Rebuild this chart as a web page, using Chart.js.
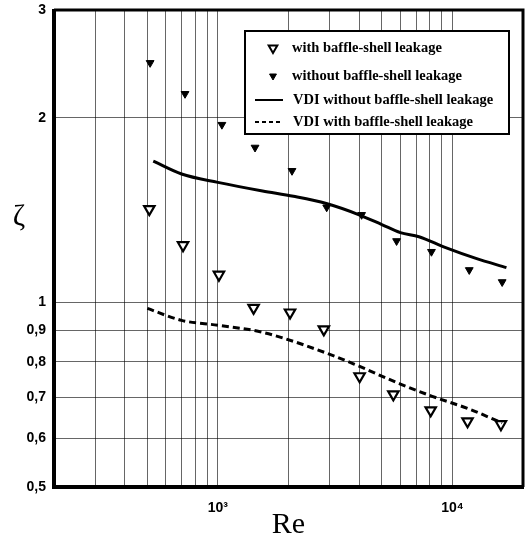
<!DOCTYPE html>
<html>
<head>
<meta charset="utf-8">
<script src="https://cdn.jsdelivr.net/npm/chart.js@4"></script>
<style>
  body { margin: 0; background: #fff; }
  canvas { display: block; }
</style>
</head>
<body>
<canvas id="zetaChart" width="526" height="539"></canvas>
<script>
// measured points, with baffle-shell leakage (open triangles)
const reWith = [510, 710, 1010, 1420, 2030, 2830, 4020, 5600, 8080, 11600, 16100];
const zetaWith = [1.42, 1.24, 1.11, 0.98, 0.963, 0.904, 0.758, 0.708, 0.667, 0.640, 0.633];

// measured points, without leakage (filled triangles)
const reWithout = [514, 724, 1040, 1440, 2070, 2910, 4100, 5780, 8140, 11800, 16300];
const zetaWithout = [2.46, 2.19, 1.95, 1.79, 1.64, 1.43, 1.39, 1.26, 1.21, 1.13, 1.08];

// VDI curves
const reVdiNo = [530, 700, 1000, 1550, 2100, 2900, 4000, 5000, 6000, 7200, 9300, 12600, 17000];
const zetaVdiNo = [1.70, 1.62, 1.57, 1.52, 1.49, 1.45, 1.39, 1.34, 1.30, 1.28, 1.23, 1.18, 1.14];
const reVdiWith = [500, 700, 1000, 1550, 3000, 4000, 6000, 8200, 11800, 16300];
const zetaVdiWith = [0.978, 0.935, 0.918, 0.894, 0.823, 0.787, 0.736, 0.703, 0.67, 0.636];

// axes
const xTicks = [200, 300, 400, 500, 600, 700, 800, 900, 1000, 2000, 3000, 4000, 5000, 6000, 7000, 8000, 9000, 10000, 20000];
const xLabels = { 1000: '10\u00B3', 10000: '10\u2074' };
const yTicks = [0.5, 0.6, 0.7, 0.8, 0.9, 1, 2, 3];

const legendItems = [
  'with baffle-shell leakage',
  'without baffle-shell leakage',
  'VDI without baffle-shell leakage',
  'VDI with baffle-shell leakage'
];

function pts(xs, ys) {
  return xs.map((x, i) => ({ x: x, y: ys[i] }));
}

const gridColor = 'rgba(0,0,0,0.6)';

// frame, zeta label and the boxed legend
const decorations = {
  id: 'decorations',
  afterDraw(chart) {
    const ctx = chart.ctx;
    const a = chart.chartArea;
    ctx.save();
    ctx.strokeStyle = '#000';
    ctx.lineWidth = 3;
    ctx.beginPath();
    ctx.moveTo(a.left, a.top);
    ctx.lineTo(a.right, a.top);
    ctx.lineTo(a.right, a.bottom);
    ctx.stroke();
    ctx.lineWidth = 4;
    ctx.beginPath();
    ctx.moveTo(a.left, a.top - 1);
    ctx.lineTo(a.left, a.bottom);
    ctx.lineTo(a.right + 1, a.bottom);
    ctx.stroke();

    ctx.fillStyle = '#000';
    ctx.font = '30px "Liberation Serif", serif';
    ctx.textAlign = 'center';
    ctx.textBaseline = 'middle';
    ctx.fillText('\u03B6', 19, a.top + (a.bottom - a.top) * 0.434);

    // legend box
    const bx = a.left + 191, by = a.top + 21, bw = 264, bh = 103;
    ctx.fillStyle = '#fff';
    ctx.fillRect(bx, by, bw, bh);
    ctx.lineWidth = 2;
    ctx.strokeRect(bx, by, bw, bh);

    const rows = [by + 17, by + 45, by + 69, by + 91];
    const sx = bx + 28;
    ctx.fillStyle = '#fff';
    ctx.strokeStyle = '#000';
    ctx.lineWidth = 2;
    Chart.helpers.drawPoint(ctx, { pointStyle: 'triangle', rotation: 180, radius: 5, borderWidth: 2 }, sx, rows[0]);
    ctx.fillStyle = '#000';
    ctx.lineWidth = 1;
    Chart.helpers.drawPoint(ctx, { pointStyle: 'triangle', rotation: 180, radius: 4, borderWidth: 1 }, sx, rows[1]);

    ctx.lineWidth = 2;
    ctx.beginPath();
    ctx.moveTo(bx + 10, rows[2]);
    ctx.lineTo(bx + 38, rows[2]);
    ctx.stroke();
    ctx.setLineDash([4, 3]);
    ctx.beginPath();
    ctx.moveTo(bx + 10, rows[3]);
    ctx.lineTo(bx + 38, rows[3]);
    ctx.stroke();
    ctx.setLineDash([]);

    ctx.fillStyle = '#000';
    ctx.textAlign = 'left';
    ctx.textBaseline = 'middle';
    ctx.font = 'bold 14.5px "Liberation Serif", serif';
    ctx.fillText(legendItems[0], bx + 47, rows[0]);
    ctx.fillText(legendItems[1], bx + 47, rows[1]);
    ctx.fillText(legendItems[2], bx + 48, rows[2]);
    ctx.fillText(legendItems[3], bx + 48, rows[3]);
    ctx.restore();
  }
};

const ctx = document.getElementById('zetaChart').getContext('2d');
new Chart(ctx, {
  type: 'scatter',
  data: {
    datasets: [
      {
        label: legendItems[2],
        data: pts(reVdiNo, zetaVdiNo),
        showLine: true,
        borderColor: '#000',
        borderWidth: 3,
        pointRadius: 0,
        cubicInterpolationMode: 'monotone'
      },
      {
        label: legendItems[3],
        data: pts(reVdiWith, zetaVdiWith),
        showLine: true,
        borderColor: '#000',
        borderWidth: 3,
        borderDash: [7, 4],
        pointRadius: 0,
        cubicInterpolationMode: 'monotone'
      },
      {
        label: legendItems[0],
        data: pts(reWith, zetaWith),
        pointStyle: 'triangle',
        rotation: 180,
        pointRadius: 6,
        pointBorderWidth: 2.2,
        pointBackgroundColor: '#fff',
        pointBorderColor: '#000'
      },
      {
        label: legendItems[1],
        data: pts(reWithout, zetaWithout),
        pointStyle: 'triangle',
        rotation: 180,
        pointRadius: 4.5,
        pointBorderWidth: 1,
        pointBackgroundColor: '#000',
        pointBorderColor: '#000'
      }
    ]
  },
  options: {
    responsive: false,
    animation: false,
    layout: { autoPadding: false, padding: { top: 10, right: 3, left: 0, bottom: 0 } },
    plugins: {
      legend: { display: false },
      tooltip: { enabled: false }
    },
    scales: {
      x: {
        type: 'logarithmic',
        min: 200,
        max: 20000,
        afterBuildTicks: s => { s.ticks = xTicks.map(v => ({ value: v })); },
        afterFit: s => { s.height = 52; s.paddingLeft = 0; s.paddingRight = 0; },
        grid: { color: gridColor, lineWidth: 1, drawTicks: false },
        border: { display: false },
        ticks: {
          autoSkip: false,
          maxRotation: 0,
          padding: 13,
          color: '#000',
          font: { family: '"Liberation Sans", Arial, sans-serif', size: 14, weight: 'bold' },
          callback: v => xLabels[v] || ''
        },
        title: {
          display: true,
          text: 'Re',
          color: '#000',
          font: { family: '"Liberation Serif", serif', size: 30 },
          padding: { top: 0, bottom: -4 }
        }
      },
      y: {
        type: 'logarithmic',
        min: 0.5,
        max: 3,
        afterBuildTicks: s => { s.ticks = yTicks.map(v => ({ value: v })); },
        afterFit: s => { s.width = 54; s.paddingTop = 0; s.paddingBottom = 0; },
        grid: { color: gridColor, lineWidth: 1, drawTicks: false },
        border: { display: false },
        ticks: {
          autoSkip: false,
          padding: 8,
          color: '#000',
          font: { family: '"Liberation Sans", Arial, sans-serif', size: 14, weight: 'bold' },
          callback: v => String(v).replace('.', ',')
        }
      }
    }
  },
  plugins: [decorations]
});
</script>
</body>
</html>
